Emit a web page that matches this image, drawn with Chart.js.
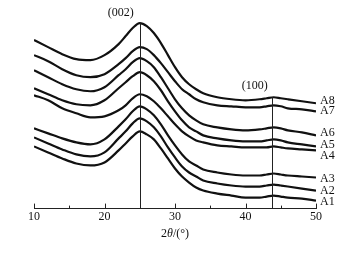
<!DOCTYPE html>
<html>
<head>
<meta charset="utf-8">
<script src="https://cdn.jsdelivr.net/npm/chart.js@4.4.1/dist/chart.umd.min.js"></script>
<style>
  html, body { margin: 0; padding: 0; background: #fff; }
</style>
</head>
<body>
<canvas id="xrd" width="350" height="257"></canvas>
<script>
// 2theta positions (deg)
const theta = [10, 12, 14, 16, 18, 20, 22, 23, 24, 25, 26, 27, 28, 29, 30, 31, 32, 33, 34, 36, 38, 40, 42, 43, 44, 45, 46, 48, 50];

// intensity, a.u. (curves are stacked)
const a1 = [62, 56, 50, 45, 43, 46, 58, 65, 72, 77, 74, 69, 60, 50, 40, 32, 26, 21, 18, 15, 13, 11, 11, 12, 13, 12, 11, 10, 8];
const a2 = [71, 65, 59, 54, 52, 56, 70, 77, 85, 90, 87, 81, 72, 61, 51, 42, 36, 32, 28, 25, 23, 22, 22, 23, 24, 23, 22, 20, 18];
const a3 = [80, 75, 70, 66, 64, 69, 82, 89, 97, 102, 99, 93, 84, 73, 63, 54, 47, 43, 39, 36, 34, 33, 33, 34, 35, 34, 33, 32, 31];
const a4 = [113, 108, 100, 95, 91, 92, 98, 103, 110, 114, 112, 107, 100, 92, 84, 77, 72, 68, 66, 63, 62, 61, 61, 61, 62, 61, 60, 59, 58];
const a5 = [120, 114, 108, 104, 103, 108, 120, 126, 132, 136, 133, 127, 118, 107, 97, 88, 81, 77, 73, 70, 68, 67, 67, 68, 69, 68, 66, 64, 62];
const a6 = [138, 131, 124, 119, 117, 121, 133, 139, 146, 150, 147, 141, 131, 120, 109, 100, 93, 88, 84, 81, 79, 78, 79, 80, 81, 80, 78, 76, 73];
const a7 = [153, 147, 139, 133, 131, 134, 144, 150, 157, 161, 159, 153, 145, 136, 127, 119, 114, 109, 106, 103, 102, 101, 101, 102, 103, 102, 100, 99, 97];
const a8 = [168, 161, 154, 149, 148, 153, 164, 172, 180, 185, 182, 175, 165, 153, 141, 131, 124, 119, 115, 111, 109, 108, 109, 110, 111, 110, 109, 107, 105];

const seriesNames = ['A1', 'A2', 'A3', 'A4', 'A5', 'A6', 'A7', 'A8'];
const seriesData = [a1, a2, a3, a4, a5, a6, a7, a8];

// peak markers: label, 2theta of line, top of line
const peakNames = ['(002)', '(100)'];
const peakTheta = [25, 43.8];
const peakTop = [185, 111];

const xTicks = [10, 20, 30, 40, 50];

const serif = '"Liberation Serif", "DejaVu Serif", serif';

const datasets = seriesData.map((arr, i) => ({
  label: seriesNames[i],
  data: theta.map((t, j) => ({ x: t, y: arr[j] })),
  borderColor: '#111',
  borderWidth: 2.2,
  pointRadius: 0,
  cubicInterpolationMode: 'monotone',
  fill: false
}));

const extras = {
  id: 'extras',
  afterDatasetsDraw(chart) {
    const ctx = chart.ctx;
    const xs = chart.scales.x;
    const ys = chart.scales.y;
    const bottom = chart.chartArea.bottom;
    ctx.save();

    // peak lines
    ctx.strokeStyle = '#222';
    ctx.lineWidth = 1;
    peakTheta.forEach((t, i) => {
      const px = Math.round(xs.getPixelForValue(t)) + 0.5;
      ctx.beginPath();
      ctx.moveTo(px, ys.getPixelForValue(peakTop[i]));
      ctx.lineTo(px, bottom);
      ctx.stroke();
    });

    // inward ticks, minor every 5
    for (let v = 10; v <= 50; v += 5) {
      const px = Math.round(xs.getPixelForValue(v)) + 0.5;
      const len = v % 10 === 0 ? 5 : 3;
      ctx.beginPath();
      ctx.moveTo(px, bottom);
      ctx.lineTo(px, bottom - len);
      ctx.stroke();
    }

    ctx.fillStyle = '#111';
    ctx.font = '12px ' + serif;
    ctx.textBaseline = 'middle';

    // peak labels
    ctx.textAlign = 'center';
    ctx.fillText(peakNames[0], xs.getPixelForValue(22.3), ys.getPixelForValue(195));
    ctx.fillText(peakNames[1], xs.getPixelForValue(41.3), ys.getPixelForValue(122));

    // series labels at curve ends
    const nudge = [1, 0, 1, 5, -2, -3, 0, -2];
    ctx.textAlign = 'left';
    seriesData.forEach((arr, i) => {
      const yv = ys.getPixelForValue(arr[arr.length - 1]) + nudge[i];
      ctx.fillText(seriesNames[i], chart.chartArea.right + 4, yv);
    });

    // axis title 2θ/(°)
    const parts = [['2', '12px ' + serif], ['θ', 'italic 12px ' + serif], ['/(°)', '12px ' + serif]];
    let w = 0;
    parts.forEach(p => { ctx.font = p[1]; w += ctx.measureText(p[0]).width; });
    let x0 = (chart.chartArea.left + chart.chartArea.right) / 2 - w / 2;
    ctx.textAlign = 'left';
    parts.forEach(p => {
      ctx.font = p[1];
      ctx.fillText(p[0], x0, 234);
      x0 += ctx.measureText(p[0]).width;
    });

    ctx.restore();
  }
};

new Chart(document.getElementById('xrd'), {
  type: 'line',
  data: { datasets },
  options: {
    responsive: false,
    animation: false,
    layout: { padding: { left: 34, right: 34, top: 8, bottom: 32 } },
    plugins: { legend: { display: false }, tooltip: { enabled: false } },
    scales: {
      x: {
        type: 'linear',
        min: 10,
        max: 50,
        grid: { display: false, drawTicks: false },
        border: { display: true, color: '#222', width: 1 },
        afterBuildTicks: (s) => { s.ticks = xTicks.map(v => ({ value: v })); },
        ticks: {
          padding: 1,
          color: '#111',
          font: { family: serif, size: 12 },
          maxRotation: 0,
          autoSkip: false
        }
      },
      y: { display: false, min: 0, max: 200 }
    }
  },
  plugins: [extras]
});
</script>
</body>
</html>
